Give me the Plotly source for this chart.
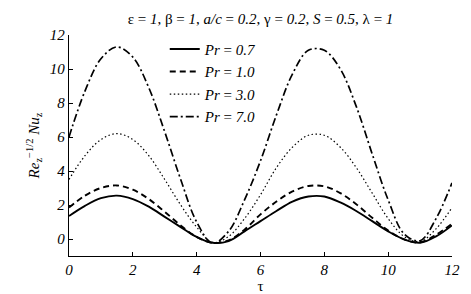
import plotly.graph_objects as go

tau = [0, 0.5, 1.0, 1.5, 2.0, 2.5, 3.0, 3.5, 4.0, 4.5, 5.0, 5.5, 6.0,
       6.5, 7.0, 7.5, 8.0, 8.5, 9.0, 9.5, 10.0, 10.5, 11.0, 11.5, 12.0]

nu_pr07 = [1.35, 1.95, 2.4, 2.55, 2.35, 1.9, 1.3, 0.7, 0.12, -0.22, -0.12, 0.45, 1.05,
           1.65, 2.2, 2.5, 2.5, 2.15, 1.65, 1.05, 0.45, -0.02, -0.22, 0.15, 0.8]
nu_pr10 = [1.85, 2.55, 3.0, 3.15, 2.9, 2.35, 1.6, 0.8, 0.12, -0.22, -0.08, 0.55, 1.45,
           2.2, 2.8, 3.12, 3.1, 2.7, 2.05, 1.25, 0.5, -0.02, -0.2, 0.25, 0.9]
nu_pr30 = [3.5, 4.9, 5.85, 6.2, 5.85, 4.9, 3.5, 2.0, 0.7, -0.2, 0.15, 1.2, 2.6,
           4.2, 5.4, 6.1, 6.1, 5.4, 4.2, 2.7, 1.2, 0.15, -0.15, 0.6, 1.85]
nu_pr70 = [6.0, 8.7, 10.6, 11.3, 10.7, 8.9, 6.3, 3.5, 1.0, -0.25, 0.45, 2.3, 4.6,
           7.3, 9.7, 11.1, 11.1, 10.0, 7.8, 5.0, 2.3, 0.3, -0.1, 1.2, 3.3]

series = [
    ("<i>Pr</i> = <i>0.7</i>", nu_pr07, "solid", 1.9),
    ("<i>Pr</i> = <i>1.0</i>", nu_pr10, "6px,4px", 1.9),
    ("<i>Pr</i> = <i>3.0</i>", nu_pr30, "1.5px,2.5px", 1.2),
    ("<i>Pr</i> = <i>7.0</i>", nu_pr70, "8px,3px,2px,3px", 1.7),
]

x_ticks = [0, 2, 4, 6, 8, 10, 12]
y_ticks = [0, 2, 4, 6, 8, 10, 12]

fig = go.Figure()
for name, vals, dash, w in series:
    fig.add_trace(go.Scatter(x=tau, y=vals, mode="lines", name=name,
                             line=dict(color="black", dash=dash, width=w, shape="spline", smoothing=1.0)))

serif = "Liberation Serif"
fig.update_layout(
    width=471, height=294,
    margin=dict(l=61, r=27, t=27, b=31),
    paper_bgcolor="white", plot_bgcolor="white",
    font=dict(family=serif, color="black", size=15),
    title=dict(text="ε = <i>1</i>, β = <i>1</i>, <i>a/c</i> = <i>0.2</i>, γ = <i>0.2</i>, <i>S</i> = <i>0.5</i>, λ = <i>1</i>",
               x=(61 + 444) / 2 / 471, xanchor="center", y=1 - 11 / 294, yanchor="middle",
               font=dict(family=serif, size=15, color="black")),
    showlegend=True,
    legend=dict(x=0.25, y=1.01, xanchor="left", yanchor="top", bgcolor="rgba(0,0,0,0)",
                font=dict(family=serif, size=15, color="black"), tracegroupgap=0),
    xaxis=dict(range=[0, 12], tickvals=x_ticks, ticktext=[str(v) for v in x_ticks],
               showline=True, linecolor="black", linewidth=1.3, mirror=False,
               ticks="inside", ticklen=4, tickcolor="black", showgrid=False, zeroline=False,
               tickfont=dict(family=serif, size=15, style="italic"),
               title=dict(text="τ", standoff=1, font=dict(family=serif, size=15))),
    yaxis=dict(range=[-1, 12], tickvals=y_ticks, ticktext=[str(v) for v in y_ticks],
               showline=True, linecolor="black", linewidth=1.3, mirror=False,
               ticks="inside", ticklen=4, tickcolor="black", showgrid=False, zeroline=False,
               tickfont=dict(family=serif, size=15, style="italic"),
               title=dict(text="<i>Re</i><sub>z</sub><sup>−1/2</sup> <i>Nu</i><sub>z</sub>", standoff=6,
                          font=dict(family=serif, size=15))),
)

fig.write_html("out.html")
